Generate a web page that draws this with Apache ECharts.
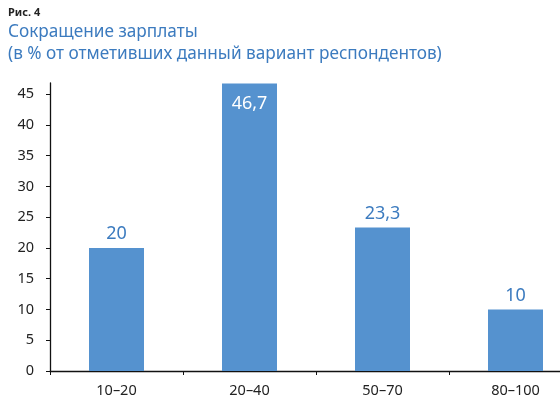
<!DOCTYPE html>
<html>
<head>
<meta charset="utf-8">
<script src="https://cdn.jsdelivr.net/npm/echarts@6/dist/echarts.min.js"></script>
<style>
	html, body { margin: 0; padding: 0; background: #fff; overflow: hidden; }
	/* the original figure is cropped on the right, so the plot runs past the window */
	#chart { width: 582px; height: 398px; }
</style>
</head>
<body>
<div id="chart"></div>
<script>
const figureLabel = "Рис. 4";
const titleLines = ["Сокращение зарплаты", "(в % от отметивших данный вариант респондентов)"];
const categories = ["10–20", "20–40", "50–70", "80–100"];
const values = [20, 46.7, 23.3, 10];
const yTicks = [0, 5, 10, 15, 20, 25, 30, 35, 40, 45];

const font = "Noto Sans";
const barColor = "#5592cf";
const blue = "#3c7bbf";

const fmt = v => String(v).replace(".", ",");

const chart = echarts.init(document.getElementById("chart"), null, { renderer: "canvas" });
chart.setOption({
	animation: false,
	textStyle: { fontFamily: font },
	title: [
		{
			text: figureLabel,
			left: 3,
			top: 2,
			textStyle: { fontSize: 11, fontWeight: "bold", color: "#222", fontFamily: font }
		},
		{
			text: titleLines.join("\n"),
			left: 3,
			top: 16,
			textStyle: { fontSize: 17.2, fontWeight: "normal", color: blue, lineHeight: 22, fontFamily: font }
		}
	],
	grid: { left: 50, right: 0, top: 83, bottom: 27, containLabel: false },
	xAxis: {
		type: "category",
		data: categories,
		axisLine: { lineStyle: { color: "#111", width: 1.3 } },
		axisTick: { show: true, length: 4, inside: false, lineStyle: { color: "#111" } },
		axisLabel: { color: "#222", fontSize: 14.5, margin: 12, fontFamily: font }
	},
	yAxis: {
		type: "value",
		min: 0,
		max: 46.8,
		interval: 5,
		splitLine: { show: false },
		axisLine: { show: true, lineStyle: { color: "#111", width: 1.3 } },
		axisTick: { show: true, length: 4, customValues: yTicks, lineStyle: { color: "#111" } },
		axisLabel: { color: "#222", fontSize: 14.5, margin: 16, customValues: yTicks, fontFamily: font }
	},
	series: [
		{
			type: "bar",
			barWidth: 55,
			data: values.map(v => ({
				value: v,
				label: v > 40
					? { position: "insideTop", distance: 11, color: "#fff" }
					: { position: "top", distance: 5, color: blue }
			})),
			itemStyle: { color: barColor },
			label: {
				show: true,
				fontSize: 18,
				fontFamily: font,
				formatter: p => fmt(p.value)
			}
		}
	]
});
</script>
</body>
</html>
